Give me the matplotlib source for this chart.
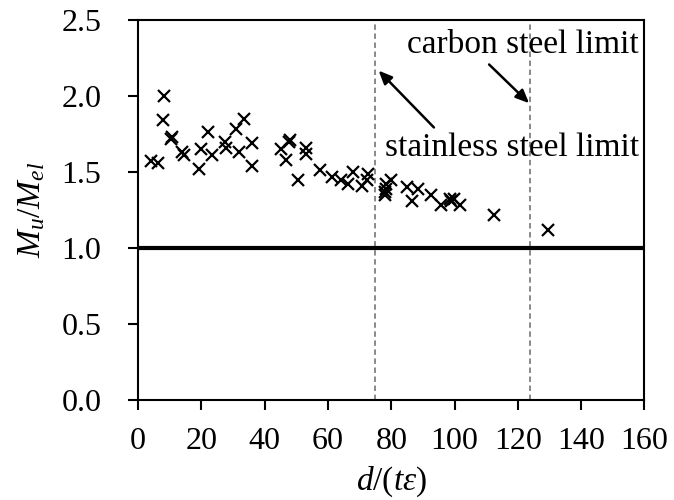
import matplotlib
matplotlib.use("Agg")
import matplotlib.pyplot as plt

plt.rcParams['font.family'] = ['Liberation Serif', 'DejaVu Serif']
plt.rcParams['mathtext.fontset'] = 'custom'
plt.rcParams['mathtext.rm'] = 'Liberation Serif'
plt.rcParams['mathtext.it'] = 'Liberation Serif:italic'

# test data: d/(t eps) vs Mu/Mel
slenderness = [4.0, 6.4, 8.3, 7.7, 10.4, 10.6, 13.8, 14.4, 19.1, 20.0, 22.0, 23.3,
               27.3, 27.8, 30.8, 31.8, 33.3, 36.0, 36.1,
               45.0, 46.6, 47.6, 48.0, 50.5, 52.9, 53.1, 57.5, 61.2, 64.0, 66.3,
               68.0, 70.9, 72.2, 72.7, 77.9, 78.3, 78.3, 78.0, 79.8, 85.1, 86.4,
               88.6, 92.7, 95.7, 98.7, 99.0, 99.7, 101.8, 112.6, 129.7]
moment_ratio = [1.57, 1.56, 2.00, 1.84, 1.72, 1.73, 1.63, 1.61, 1.52, 1.65, 1.76, 1.61,
                1.70, 1.66, 1.78, 1.63, 1.85, 1.54, 1.69,
                1.65, 1.58, 1.70, 1.71, 1.45, 1.66, 1.62, 1.51, 1.47, 1.45, 1.42,
                1.50, 1.41, 1.45, 1.49, 1.37, 1.42, 1.39, 1.35, 1.45, 1.40, 1.31,
                1.39, 1.35, 1.28, 1.32, 1.31, 1.32, 1.28, 1.22, 1.12]

stainless_limit = 75
carbon_limit = 124

fig = plt.figure(figsize=(6.74, 5.0), dpi=100)
ax = fig.add_axes([0.205, 0.2, 0.751, 0.76])

ax.axvline(stainless_limit, color='#808080', ls=(0, (3, 2)), lw=1.3, zorder=1)
ax.axvline(carbon_limit, color='#808080', ls=(0, (3, 2)), lw=1.3, zorder=1)
ax.axhline(1.0, color='black', lw=3.0, zorder=2)

ax.plot(slenderness, moment_ratio, ls='none', marker='x', ms=8, mew=1.6,
        color='black', zorder=3)

ax.annotate('', xy=(75.4, 2.18), xytext=(94.1, 1.78),
            arrowprops=dict(arrowstyle='-|>,head_length=0.8,head_width=0.35',
                            color='black', lw=1.8))
ax.annotate('', xy=(124.2, 1.94), xytext=(110.3, 2.22),
            arrowprops=dict(arrowstyle='-|>,head_length=0.8,head_width=0.35',
                            color='black', lw=1.8))
ax.text(158.2, 2.34, 'carbon steel limit', fontsize=24, ha='right', va='center')
ax.text(158.2, 1.66, 'stainless steel limit', fontsize=24, ha='right', va='center')

ax.set_xlim(0, 160)
ax.set_ylim(0, 2.5)
ax.set_xticks(range(0, 161, 20))
ax.set_yticks([0.0, 0.5, 1.0, 1.5, 2.0, 2.5])
ax.set_yticklabels(['0.0', '0.5', '1.0', '1.5', '2.0', '2.5'])
ax.tick_params(direction='out', length=7.5, width=1.5, labelsize=23)
ax.tick_params(axis='y', pad=19)
ax.tick_params(axis='x', pad=12)
for s in ax.spines.values():
    s.set_linewidth(1.5)

ax.set_xlabel(r'$d/(t\varepsilon)$', fontsize=24, labelpad=6)
ax.set_ylabel(r'$M_u/M_{el}$', fontsize=24, labelpad=10)

fig.savefig('out.png', dpi=100)
